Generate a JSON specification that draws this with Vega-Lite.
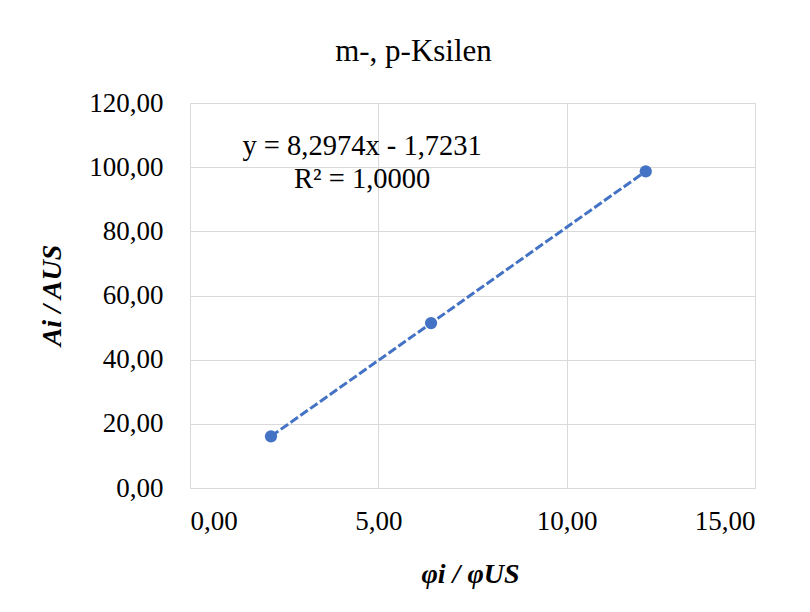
{
  "$schema": "https://vega.github.io/schema/vega-lite/v6.json",
  "width": 565,
  "height": 385,
  "autosize": {"type": "none"},
  "padding": {"left": 190, "top": 103, "right": 55, "bottom": 124},
  "background": "white",
  "config": {
    "font": "Liberation Serif",
    "view": {"stroke": null},
    "axis": {
      "grid": true,
      "gridColor": "#d9d9d9",
      "gridWidth": 1,
      "domain": false,
      "ticks": false,
      "labelFont": "Liberation Serif",
      "labelFontSize": 27,
      "labelColor": "#000000",
      "titleFont": "Liberation Serif",
      "titleColor": "#000000"
    }
  },
  "title": {
    "text": "m-, p-Ksilen",
    "font": "Liberation Serif",
    "fontSize": 31,
    "fontWeight": "normal",
    "color": "#000000",
    "anchor": "middle",
    "dx": -59,
    "offset": 21
  },
  "datasets": {
    "points": [
      {"x": 2.15, "y": 16.1},
      {"x": 6.4, "y": 51.4},
      {"x": 12.1, "y": 98.7}
    ],
    "labels": [
      {"x": 4.57, "y": 106.5, "label": "y = 8,2974x - 1,7231"},
      {"x": 4.57, "y": 96.2, "label": "R² = 1,0000"}
    ]
  },
  "layer": [
    {
      "data": {"name": "points"},
      "transform": [{"regression": "y", "on": "x"}],
      "mark": {"type": "line", "color": "#4472C4", "strokeWidth": 3, "strokeDash": [9, 3]},
      "encoding": {
        "x": {
          "field": "x", "type": "quantitative",
          "scale": {"domain": [0, 15], "nice": false},
          "axis": {
            "values": [0, 5, 10, 15],
            "labelExpr": "replace(format(datum.value, '.2f'), '.', ',')",
            "labelPadding": 20,
            "title": "φi / φUS",
            "titleFontSize": 28,
            "titleFontWeight": "bold",
            "titleFontStyle": "italic",
            "titleX": 280,
            "titleY": 86,
            "titleBaseline": "middle"
          }
        },
        "y": {
          "field": "y", "type": "quantitative",
          "scale": {"domain": [0, 120], "nice": false},
          "axis": {
            "values": [0, 20, 40, 60, 80, 100, 120],
            "labelExpr": "replace(format(datum.value, '.2f'), '.', ',')",
            "labelPadding": 27,
            "title": "Ai / AUS",
            "titleFontSize": 28,
            "titleFontWeight": "bold",
            "titleFontStyle": "italic",
            "titleAngle": -90,
            "titleX": -138,
            "titleY": 192,
            "titleAlign": "center",
            "titleBaseline": "middle"
          }
        }
      }
    },
    {
      "data": {"name": "points"},
      "mark": {"type": "point", "filled": true, "shape": "circle", "color": "#4472C4", "size": 150, "opacity": 1},
      "encoding": {
        "x": {"field": "x", "type": "quantitative"},
        "y": {"field": "y", "type": "quantitative"}
      }
    },
    {
      "data": {"name": "labels"},
      "mark": {"type": "text", "font": "Liberation Serif", "fontSize": 28.5, "color": "#000000", "align": "center", "baseline": "middle"},
      "encoding": {
        "x": {"field": "x", "type": "quantitative"},
        "y": {"field": "y", "type": "quantitative"},
        "text": {"field": "label"}
      }
    }
  ]
}
